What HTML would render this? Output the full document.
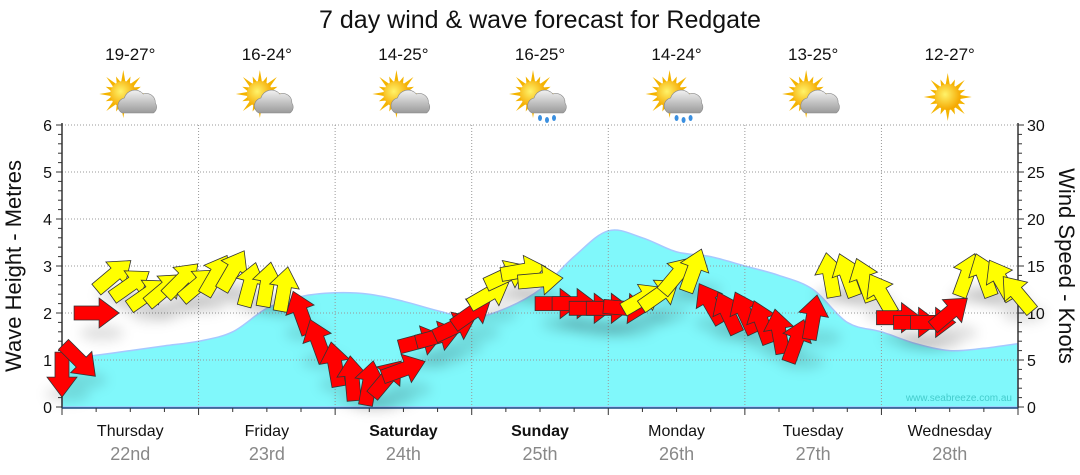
<!DOCTYPE html>
<html><head><meta charset="utf-8"><style>
html,body{margin:0;padding:0;background:#fff;width:1080px;height:475px;overflow:hidden;font-family:"Liberation Sans","DejaVu Sans",sans-serif}
</style></head><body>
<svg id="chart" width="1080" height="475" xmlns="http://www.w3.org/2000/svg" font-family="Liberation Sans, DejaVu Sans, sans-serif">
<defs>
<radialGradient id="sunG" cx="40%" cy="40%" r="60%"><stop offset="0" stop-color="#fff36a"/><stop offset="1" stop-color="#f5a800"/></radialGradient>
<linearGradient id="cloudG" x1="0" y1="0" x2="0" y2="1"><stop offset="0" stop-color="#f2f2f2"/><stop offset="1" stop-color="#9a9a9a"/></linearGradient>
<filter id="blur" x="-50%" y="-50%" width="200%" height="200%"><feGaussianBlur stdDeviation="6"/></filter>
</defs>
<text x="540" y="28" text-anchor="middle" font-size="25" fill="#111">7 day wind &amp; wave forecast for Redgate</text>
<g id="icons"></g>
<g id="plot"></g>
</svg>
<script>
const days=["Thursday","Friday","Saturday","Sunday","Monday","Tuesday","Wednesday"];
const dates=["22nd","23rd","24th","25th","26th","27th","28th"];
const temps=["19-27°","16-24°","14-25°","16-25°","14-24°","13-25°","12-27°"];
const weather=["cloud","cloud","cloud","rain","rain","cloud","sun"];
const waveTicks=[0,1,2,3,4,5,6];
const windTicks=[0,5,10,15,20,25,30];
// wave height every 6 hours (m)
const waveHeights=[1.0,1.1,1.2,1.3,1.4,1.6,2.1,2.35,2.43,2.4,2.25,2.05,1.9,2.1,2.5,3.2,3.75,3.6,3.3,3.2,3.0,2.8,2.5,1.8,1.6,1.35,1.2,1.25,1.35];
// wind every 3 hours (knots)
const windSpeeds=[3.5,5,10,14,13,12,12.5,13.5,13,14,14.5,13,13,12.5,10,7,4.5,3,2.5,3,4,7,7.5,8.5,10,12,14,14.5,13.5,11,11,10.5,10.5,10.5,11.5,12,14,14.5,11,10,10,9,8,7,9.5,14,14,13.5,12,9.5,9,9,10,14,14,13.5,12];
// arrow pointing angle, degrees (0=east, -90=north)
const windDirs=[90,45,0,-40,-35,-35,-40,-45,-40,-60,-60,-75,-80,-80,-110,-110,-100,-95,-80,-50,-20,-15,-15,-25,-35,-30,-25,-10,-5,0,0,0,0,5,-30,-35,-50,-70,-120,-115,-115,-110,-100,-70,-80,-100,-110,-110,-120,0,0,0,-40,-70,-110,-120,-130];
const windColor=[1,1,1,0,0,0,0,0,0,0,0,0,0,0,1,1,1,1,1,1,1,1,1,1,1,0,0,0,0,1,1,1,1,1,0,0,0,0,1,1,1,1,1,1,1,0,0,0,0,1,1,1,1,0,0,0,0];

const NS="http://www.w3.org/2000/svg";
const X0=62,X1=1018,Y0=407,Y6=125;
const dayW=(X1-X0)/7;
const xH=h=>X0+h*dayW/24;
const yWave=m=>Y0-(Y0-Y6)*m/6;
const yWind=k=>Y0-(Y0-Y6)*k/30;
function el(tag,attrs,parent){const e=document.createElementNS(NS,tag);for(const k in attrs)e.setAttribute(k,attrs[k]);parent.appendChild(e);return e;}
const plot=document.getElementById('plot');
const icons=document.getElementById('icons');

// wave area (smooth curve)
const pts=waveHeights.map((h,i)=>[xH(i*6),yWave(h)]);
let d=`M${X0},${Y0} L${pts[0][0]},${pts[0][1]}`;
for(let i=0;i<pts.length-1;i++){
  const p0=pts[Math.max(0,i-1)],p1=pts[i],p2=pts[i+1],p3=pts[Math.min(pts.length-1,i+2)];
  const c1=[p1[0]+(p2[0]-p0[0])/6,p1[1]+(p2[1]-p0[1])/6],c2=[p2[0]-(p3[0]-p1[0])/6,p2[1]-(p3[1]-p1[1])/6];
  d+=` C${c1[0].toFixed(1)},${c1[1].toFixed(1)} ${c2[0].toFixed(1)},${c2[1].toFixed(1)} ${p2[0].toFixed(1)},${p2[1].toFixed(1)}`;
}
d+=` L${X1},${Y0} Z`;
const wave=el('path',{d:d,fill:'#80f8fb',stroke:'#a6c8ff','stroke-width':1.5,'stroke-linejoin':'round'},plot);



// grid
waveTicks.forEach(t=>{if(t>0){const g=el('line',{x1:X0,x2:X1,y1:yWave(t),y2:yWave(t),stroke:'#999','stroke-dasharray':'1,2','stroke-width':1},plot);

}});
for(let i=1;i<7;i++){const x=X0+i*dayW;const g=el('line',{x1:x,x2:x,y1:Y6,y2:Y0,stroke:'#999','stroke-dasharray':'1,2','stroke-width':1},plot);

}

// axes
el('line',{x1:X0,x2:X0,y1:Y6-2,y2:Y0+1,stroke:'#333','stroke-width':1.5},plot);
el('line',{x1:X1,x2:X1,y1:Y6-2,y2:Y0+1,stroke:'#333','stroke-width':1.5},plot);
el('line',{x1:X0,x2:X1,y1:Y0+1,y2:Y0+1,stroke:'#1a4a80','stroke-width':1.5},plot);
for(let m=0;m<=30;m++){const y=Y0-(Y0-Y6)*m/30;el('line',{x1:X0-(m%5==0?6:4),x2:X0,y1:y,y2:y,stroke:'#333'},plot);}
for(let k=0;k<=30;k++){const y=yWind(k);el('line',{x1:X1,x2:X1+(k%5==0?6:4),y1:y,y2:y,stroke:'#333'},plot);}
for(let h=0;h<=168;h+=6){const x=xH(h);el('line',{x1:x,x2:x,y1:Y0+1,y2:Y0+(h%24==0?8:5),stroke:'#333'},plot);}
waveTicks.forEach(t=>{const tx=el('text',{x:X0-10,y:yWave(t)+6,'text-anchor':'end','font-size':16,fill:'#111'},plot);tx.textContent=t;

});
windTicks.forEach(t=>{const tx=el('text',{x:X1+9,y:yWind(t)+6,'font-size':16,fill:'#111'},plot);tx.textContent=t;

});
let t1=el('text',{x:0,y:0,transform:'translate(21,266) rotate(-90)','text-anchor':'middle','font-size':22,fill:'#111'},plot);t1.textContent='Wave Height - Metres';


let t2=el('text',{x:0,y:0,transform:'translate(1059,266) rotate(90)','text-anchor':'middle','font-size':22,fill:'#111'},plot);t2.textContent='Wind Speed - Knots';


let wm=el('text',{x:1012,y:401,'text-anchor':'end','font-size':10,fill:'#4cc'},plot);wm.textContent='www.seabreeze.com.au';



// day labels + icons
days.forEach((dn,i)=>{
  const cx=X0+(i+0.5)*dayW;
  const a=el('text',{x:cx,y:436,'text-anchor':'middle','font-size':16,fill:'#111','font-weight':(i==2||i==3)?'bold':'normal'},plot);a.textContent=dn;
  
  
  const b=el('text',{x:cx,y:460,'text-anchor':'middle','font-size':18,fill:'#888'},plot);b.textContent=dates[i];
  
  
  const t=el('text',{x:cx,y:60,'text-anchor':'middle','font-size':17,fill:'#111'},icons);t.textContent=temps[i];
  
  
  const g=el('g',{transform:`translate(${cx-2},97)`},icons);
  
  
  const sx=weather[i]=='sun'?0:-5, sy=weather[i]=='sun'?0:-3;
  for(let r=0;r<16;r++){const an=r*Math.PI/8;const L=r%2?19:24;
    el('polygon',{points:`${sx+Math.cos(an)*L},${sy+Math.sin(an)*L} ${sx+Math.cos(an+0.18)*12},${sy+Math.sin(an+0.18)*12} ${sx+Math.cos(an-0.18)*12},${sy+Math.sin(an-0.18)*12}`,fill:'#f4b400'},g);}
  el('circle',{cx:sx,cy:sy,r:13,fill:'url(#sunG)'},g);
  if(weather[i]!='sun'){
    el('path',{d:'M-6,16 a8,8 0 0 1 2,-15 a11,11 0 0 1 19,-4 a9,9 0 0 1 12,9 a7,7 0 0 1 -2,10 Z',fill:'url(#cloudG)',stroke:'#888','stroke-width':0.6},g);
    if(weather[i]=='rain'){[[2,21],[9,23],[16,21]].forEach(p=>el('ellipse',{cx:p[0],cy:p[1],rx:2,ry:3,fill:'#3a8fe0'},g));}
  }
});

// wind arrow shadows
const shadows=el('g',{filter:'url(#blur)'},plot);
windSpeeds.forEach((k,i)=>{
  el('ellipse',{cx:xH(i*3)+6,cy:yWind(k)+20,rx:22,ry:8,fill:'rgba(0,0,0,0.12)'},shadows);
});
// wind arrows
const arrows=el('g',{},plot);


windSpeeds.forEach((k,i)=>{
  const x=xH(i*3), y=yWind(k);
  const p=el('polygon',{points:'-22,-7 3,-7 3,-15 23,0 3,15 3,7 -22,7',transform:`translate(${x.toFixed(1)},${y.toFixed(1)}) rotate(${windDirs[i]})`,fill:windColor[i]?'#ff0000':'#ffff00',stroke:'#333','stroke-width':0.8},arrows);
  
  
});
</script>
</body></html>
